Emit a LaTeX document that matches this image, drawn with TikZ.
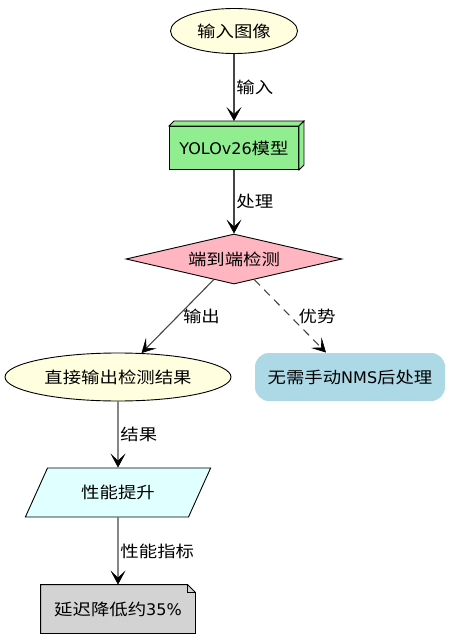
\documentclass[tikz,border=0pt]{standalone}
\usepackage{fontspec}
\setmainfont{DejaVu Sans}
\newfontfamily\zh[FakeStretch=1.15]{Noto Sans CJK SC}
\usetikzlibrary{shapes.geometric,arrows.meta}
\definecolor{ivory}{HTML}{FFFFE0}
\definecolor{lgreen}{HTML}{90EE90}
\definecolor{lpink}{HTML}{FFB6C1}
\definecolor{lblue}{HTML}{ADD8E6}
\definecolor{lcyan}{HTML}{E0FFFF}
\definecolor{lgray}{HTML}{D3D3D3}
\definecolor{edgegray}{HTML}{454545}

\begin{document}
\begin{tikzpicture}[x=1pt, y=-1pt,
    every node/.style={font=\fontsize{16}{19}\selectfont, inner sep=0pt, draw=black, line width=0.9pt},
    term/.style={ellipse, fill=ivory},
    lbl/.style={draw=none, inner sep=2pt, fill=none},
    edge/.style={draw=edgegray, line width=1.1pt, -{Stealth[length=14pt, width=15pt, inset=7pt, line width=0.6pt, black]}}
]
\useasboundingbox (0,0) rectangle (450,639);

% Start
\node[term, minimum width=127, minimum height=45] (img) at (234,31) {\zh 输入图像};

% Model (3d box)
\node[fill=lgreen, minimum width=129, minimum height=43] (yolo) at (234,148) {YOLOv26{\zh 模型}};
\filldraw[fill=lgreen, line width=0.9pt] (yolo.north west) -- ++(5,-5) -- ([xshift=5pt, yshift=5pt]yolo.north east) -- (yolo.north east) -- cycle;
\filldraw[fill=lgreen, line width=0.9pt] (yolo.north east) -- ++(5,-5) -- ([xshift=5pt, yshift=5pt]yolo.south east) -- (yolo.south east) -- cycle;

% Decision
\node[diamond, aspect=4.3, fill=lpink, minimum width=216, minimum height=50] (e2e) at (234,259) {\zh 端到端检测};

% Results
\node[term, minimum width=226, minimum height=48] (out) at (118,377) {\zh 直接输出检测结果};
\node[draw=none, fill=lblue, rounded corners=14pt, minimum width=190, minimum height=48] (nms) at (350,377) {{\zh 无需手动}NMS{\zh 后处理}};

% Performance
\node[trapezium, trapezium left angle=52, trapezium right angle=128, trapezium stretches=true, fill=lcyan, minimum width=186, minimum height=49] (perf) at (118,492.5) {\zh 性能提升};

% Note
\node[draw=none, minimum width=154, minimum height=48] (lat) at (118,609) {};
\filldraw[fill=lgray, line width=0.9pt] (lat.south west) -- (lat.north west) -- ([xshift=-8pt]lat.north east) -- ([yshift=-8pt]lat.north east) -- (lat.south east) -- cycle;
\draw[line width=0.9pt] ([xshift=-8pt]lat.north east) -- ([xshift=-8pt, yshift=-8pt]lat.north east) -- ([yshift=-8pt]lat.north east);
\node[draw=none] at (lat) {{\zh 延迟降低约}35\%};

% Connections
\draw[edge] (img) -- ([yshift=5pt]yolo.north) node[midway, right, lbl] {\zh 输入};
\draw[edge] (yolo) -- (e2e) node[midway, right, lbl] {\zh 处理};
\draw[edge] (e2e) -- (out) node[midway, right, lbl, xshift=3pt] {\zh 输出};
\draw[edge, dash pattern=on 8pt off 6pt] (e2e) -- (nms) node[midway, right, lbl, xshift=6pt] {\zh 优势};
\draw[edge] (out) -- (perf) node[midway, right, lbl] {\zh 结果};
\draw[edge] (perf) -- (lat) node[midway, right, lbl] {\zh 性能指标};

\end{tikzpicture}
\end{document}
